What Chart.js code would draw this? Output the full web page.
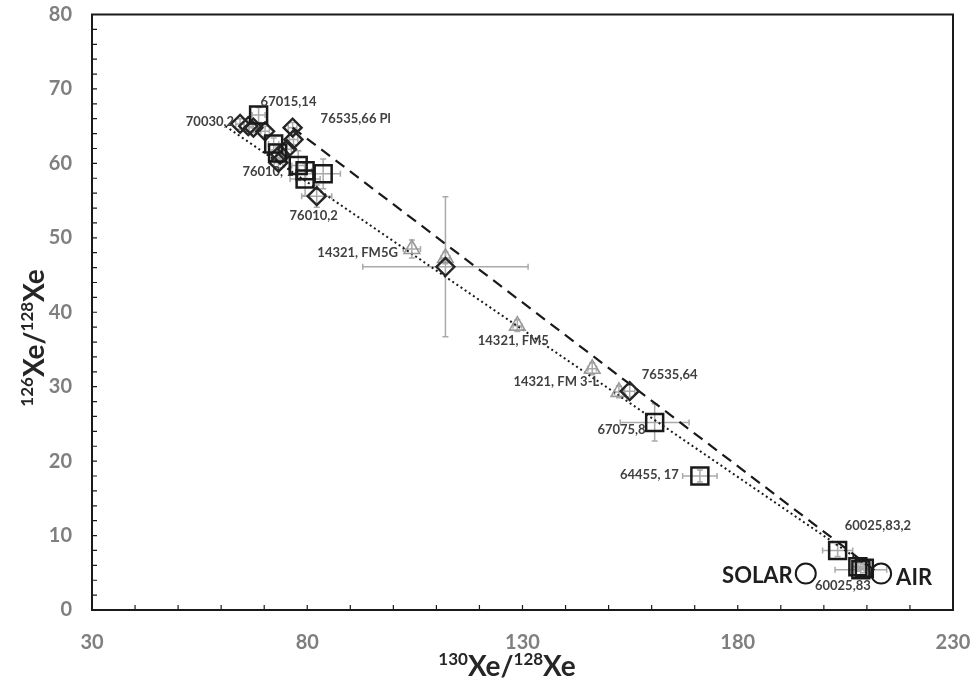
<!DOCTYPE html>
<html lang="en">
<head>
<meta charset="UTF-8">
<title>126Xe/128Xe vs 130Xe/128Xe</title>
<script src="https://cdn.jsdelivr.net/npm/chart.js@4"></script>
<style>
  html, body { margin: 0; padding: 0; background: #fff; }
  canvas { display: block; }
</style>
</head>
<body>
<canvas id="xeChart" width="972" height="685"></canvas>
<script>
// ratios x100 : x = 130Xe/128Xe, y = 126Xe/128Xe
const diamondX    = [64.4, 66.3, 67.5, 70.2, 76.6, 76.8, 75.3, 73.7, 73.3, 82.2, 112.1, 154.9];
const diamondY    = [65.3, 65.0, 64.8, 64.3, 64.8, 63.2, 61.9, 61.2, 60.1, 55.6, 46.1, 29.4];
const diamondXErr = [1.0, 1.0, 1.0, 1.0, 1.0, 1.0, 1.0, 1.0, 1.0, 3.5, 19.2, 1.2];
const diamondYErr = [0.7, 0.7, 0.7, 0.7, 0.7, 0.7, 0.7, 0.7, 0.7, 1.5, 9.4, 0.8];
const diamondLabels = ['70030,2', '', '', '', '76535,66 Pl', '', '', '', '76010, 1', '76010,2', '', '76535,64'];

const squareX    = [68.7, 72.2, 73.1, 77.9, 79.5, 79.5, 83.7, 160.7, 171.2, 203.2, 208.6, 209.4, 207.9];
const squareY    = [66.5, 62.6, 61.4, 59.7, 59.0, 57.9, 58.6, 25.2, 18.0, 8.0, 5.4, 5.6, 5.8];
const squareXErr = [1.5, 1.2, 1.2, 1.5, 1.5, 3.5, 4.0, 8.0, 4.0, 3.5, 6.0, 1.2, 1.2];
const squareYErr = [1.0, 0.8, 0.8, 2.0, 1.0, 2.2, 2.0, 2.5, 0.8, 0.8, 0.8, 0.6, 0.6];
const squareLabels = ['67015,14', '', '', '', '', '', '', '67075,8', '64455, 17', '60025,83,2', '60025,83', '', ''];

const triangleX    = [104.3, 112.1, 128.8, 146.2, 152.4];
const triangleY    = [48.5, 47.3, 38.2, 32.4, 29.3];
const triangleXErr = [2.0, 1.0, 1.0, 1.0, 1.0];
const triangleYErr = [1.2, 0.8, 0.8, 0.8, 0.8];
const triangleLabels = ['14321, FM5G', '', '14321, FM5', '14321, FM 3-L', ''];

const endX = [195.8, 213.3];
const endY = [4.9, 4.9];
const endLabels = ['SOLAR', 'AIR'];

const dottedLineX = [61, 210];
const dottedLineY = [65, 6];
const dashedLineX = [76.6, 213];
const dashedLineY = [64.8, 4.8];

const xTitle = [['130', true], ['Xe/', false], ['128', true], ['Xe', false]];
const yTitle = [['126', true], ['Xe/', false], ['128', true], ['Xe', false]];

// where each label sits relative to its marker (pixels)
const labelPlace = {
  '70030,2':      { dx: -6,  dy: -2,  align: 'right' },
  '67015,14':     { dx: 2,   dy: -13, align: 'left' },
  '76535,66 Pl':  { dx: 28,  dy: -9,  align: 'left' },
  '76010, 1':     { dx: -36, dy: 9,   align: 'left', behind: true },
  '76010,2':      { dx: -3,  dy: 20,  align: 'center' },
  '14321, FM5G':  { dx: -14, dy: 4,   align: 'right' },
  '14321, FM5':   { dx: -4,  dy: 15,  align: 'center' },
  '14321, FM 3-L':{ dx: 7,   dy: 13,  align: 'right' },
  '76535,64':     { dx: 12,  dy: -16, align: 'left' },
  '67075,8':      { dx: -9,  dy: 7,   align: 'right' },
  '64455, 17':    { dx: -21, dy: -1,  align: 'right' },
  '60025,83,2':   { dx: 7,   dy: -25, align: 'left' },
  '60025,83':     { dx: -18, dy: 16,  align: 'center' },
  'SOLAR':        { dx: -13, dy: 2,   align: 'right', big: true },
  'AIR':          { dx: 15,  dy: 4,   align: 'left', big: true }
};

const toPoints = (xs, ys) => xs.map((x, i) => ({ x, y: ys[i] }));
const FONT = 'Lato, "Open Sans", sans-serif';

const errorBars = {
  id: 'errorBars',
  beforeDatasetsDraw(chart) {
    const { ctx, scales: { x, y } } = chart;
    ctx.save();
    ctx.strokeStyle = '#aaaaaa';
    ctx.lineWidth = 1.5;
    chart.data.datasets.forEach(ds => {
      if (!ds.errX) return;
      ds.data.forEach((p, i) => {
        const px = x.getPixelForValue(p.x), py = y.getPixelForValue(p.y);
        const x0 = x.getPixelForValue(p.x - ds.errX[i]), x1 = x.getPixelForValue(p.x + ds.errX[i]);
        const y0 = y.getPixelForValue(p.y - ds.errY[i]), y1 = y.getPixelForValue(p.y + ds.errY[i]);
        const c = 3;
        ctx.beginPath();
        ctx.moveTo(x0, py); ctx.lineTo(x1, py);
        ctx.moveTo(px, y0); ctx.lineTo(px, y1);
        ctx.moveTo(x0, py - c); ctx.lineTo(x0, py + c);
        ctx.moveTo(x1, py - c); ctx.lineTo(x1, py + c);
        ctx.moveTo(px - c, y0); ctx.lineTo(px + c, y0);
        ctx.moveTo(px - c, y1); ctx.lineTo(px + c, y1);
        ctx.stroke();
      });
    });
    ctx.restore();
  }
};

function drawLabels(chart, behind) {
  const ctx = chart.ctx;
  ctx.save();
  ctx.textBaseline = 'middle';
  chart.data.datasets.forEach((ds, di) => {
    if (!ds.pointLabels) return;
    const meta = chart.getDatasetMeta(di);
    ds.pointLabels.forEach((txt, i) => {
      const place = labelPlace[txt];
      if (!txt || !place || !!place.behind !== behind) return;
      const el = meta.data[i];
      ctx.font = place.big ? 'bold 22px ' + FONT : 'bold 13px ' + FONT;
      ctx.fillStyle = place.big ? '#1e1e1e' : '#404040';
      ctx.textAlign = place.align;
      ctx.fillText(txt, el.x + place.dx, el.y + place.dy);
    });
  });
  ctx.restore();
}

const pointLabels = {
  id: 'pointLabels',
  beforeDatasetsDraw(chart) { drawLabels(chart, true); },
  afterDatasetsDraw(chart) { drawLabels(chart, false); }
};

function drawTitle(ctx, parts, cx, baseY) {
  const big = 'bold 28px ' + FONT, small = 'bold 17px ' + FONT;
  let total = 0;
  parts.forEach(([t, sup]) => { ctx.font = sup ? small : big; total += ctx.measureText(t).width; });
  let x = cx - total / 2;
  parts.forEach(([t, sup]) => {
    ctx.font = sup ? small : big;
    ctx.fillText(t, x, sup ? baseY - 11 : baseY);
    x += ctx.measureText(t).width;
  });
}

const frame = {
  id: 'frame',
  afterDraw(chart) {
    const { ctx, chartArea: a, scales: { x, y } } = chart;
    ctx.save();
    ctx.strokeStyle = '#1a1a1a';
    ctx.lineWidth = 1.2;
    ctx.beginPath();
    x.ticks.forEach(t => {
      const px = x.getPixelForValue(t.value);
      ctx.moveTo(px, a.bottom); ctx.lineTo(px, a.bottom - 5);
    });
    y.ticks.forEach(t => {
      const py = y.getPixelForValue(t.value);
      ctx.moveTo(a.left, py); ctx.lineTo(a.left + 5, py);
    });
    ctx.stroke();
    ctx.lineWidth = 2;
    ctx.strokeRect(a.left, a.top, a.right - a.left, a.bottom - a.top);

    ctx.fillStyle = '#262626';
    ctx.textAlign = 'left';
    ctx.textBaseline = 'alphabetic';
    drawTitle(ctx, xTitle, 507, 676);
    ctx.translate(44, 338);
    ctx.rotate(-Math.PI / 2);
    drawTitle(ctx, yTitle, 0, 0);
    ctx.restore();
  }
};

const tickFont = { family: FONT, size: 20, weight: 'bold' };

new Chart(document.getElementById('xeChart'), {
  type: 'scatter',
  data: {
    datasets: [
      {
        data: toPoints(endX, endY), pointLabels: endLabels,
        pointStyle: 'circle', pointRadius: 10, borderWidth: 2,
        borderColor: '#1a1a1a', backgroundColor: 'rgba(255,255,255,0)', order: 1
      },
      {
        data: toPoints(squareX, squareY), errX: squareXErr, errY: squareYErr, pointLabels: squareLabels,
        pointStyle: 'rect', pointRadius: 12, borderWidth: 2.5,
        borderColor: '#1a1a1a', backgroundColor: 'rgba(255,255,255,0)', order: 2
      },
      {
        data: toPoints(diamondX, diamondY), errX: diamondXErr, errY: diamondYErr, pointLabels: diamondLabels,
        pointStyle: 'rectRot', pointRadius: 9, borderWidth: 2.4,
        borderColor: '#262626', backgroundColor: 'rgba(255,255,255,0)', order: 3
      },
      {
        data: toPoints(triangleX, triangleY), errX: triangleXErr, errY: triangleYErr, pointLabels: triangleLabels,
        pointStyle: 'triangle', pointRadius: 9, borderWidth: 1.6,
        borderColor: '#9a9a9a', backgroundColor: 'rgba(255,255,255,0)', order: 4
      },
      {
        data: toPoints(dashedLineX, dashedLineY), showLine: true, pointRadius: 0,
        borderColor: '#1a1a1a', borderWidth: 2.2, borderDash: [11, 7], order: 5
      },
      {
        data: toPoints(dottedLineX, dottedLineY), showLine: true, pointRadius: 0,
        borderColor: '#1a1a1a', borderWidth: 2, borderDash: [2, 3], order: 6
      }
    ]
  },
  options: {
    responsive: false,
    devicePixelRatio: 1,
    animation: false,
    events: [],
    layout: { padding: { left: 0, right: 19, top: 13, bottom: 0 } },
    plugins: { legend: { display: false }, tooltip: { enabled: false } },
    scales: {
      x: {
        type: 'linear', min: 30, max: 230,
        afterFit(s) { s.height = 75; s.paddingLeft = 0; s.paddingRight = 0; },
        grid: { drawOnChartArea: false, drawTicks: false },
        border: { display: false },
        ticks: {
          stepSize: 10, autoSkip: false, maxRotation: 0, padding: 21,
          color: '#7f7f7f', font: tickFont,
          callback: v => ((v - 30) % 50 === 0 ? v : '')
        }
      },
      y: {
        type: 'linear', min: 0, max: 80,
        afterFit(s) { s.width = 92; s.paddingTop = 0; s.paddingBottom = 0; },
        grid: { drawOnChartArea: false, drawTicks: false },
        border: { display: false },
        ticks: {
          stepSize: 2, autoSkip: false, padding: 20,
          color: '#7f7f7f', font: tickFont,
          callback: v => (v % 10 === 0 ? v : '')
        }
      }
    }
  },
  plugins: [errorBars, pointLabels, frame]
});
</script>
</body>
</html>
